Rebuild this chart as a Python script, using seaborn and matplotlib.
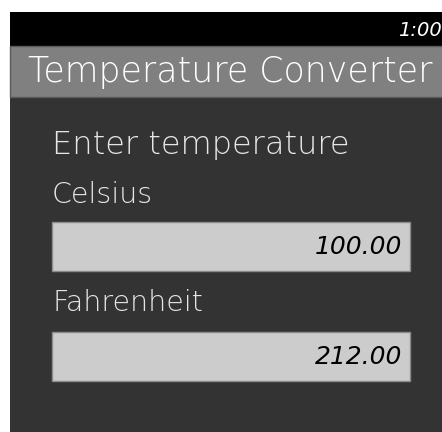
import matplotlib
matplotlib.use("Agg")
import matplotlib.pyplot as plt
import seaborn as sns
from matplotlib.patches import Rectangle

# screen texts and values
status_time = "1:00"
title = "Temperature Converter"
prompt = "Enter temperature"
field_labels = ["Celsius", "Fahrenheit"]
field_values = [100.00, 212.00]

sns.set_style("white")
plt.rcParams["font.family"] = ["DejaVu Sans"]

W, H = 442, 432
fig = plt.figure(figsize=(W / 100, H / 100), dpi=100)
fig.patch.set_facecolor("#333333")
ax = fig.add_axes([0, 0, 1, 1])
ax.set_xlim(0, W)
ax.set_ylim(H, 0)
ax.axis("off")

# white margin at the top and left, then the bars of the screen
ax.add_patch(Rectangle((-5, -5), 15, H + 10, color="white", lw=0))
ax.add_patch(Rectangle((-5, -5), W + 10, 17, color="white", lw=0))
ax.add_patch(Rectangle((10, 12), W, 34, color="black", lw=0))
ax.add_patch(Rectangle((10, 46), W, 51, facecolor="#808080",
                       edgecolor="#5a5a5a", lw=1))

ax.text(442, 30, status_time, color="white", fontsize=14, ha="right",
        va="center", style="italic", fontweight="light")
ax.text(28, 72, title, color="white", fontsize=25, ha="left", va="center",
        fontweight="light")
ax.text(52, 145, prompt, color="#e6e6e6", fontsize=23, ha="left",
        va="center", fontweight="light")

label_y = [195, 303]
box_top = [222, 332]
for lab, val, ly, by in zip(field_labels, field_values, label_y, box_top):
    ax.text(52, ly, lab, color="#e6e6e6", fontsize=20.5, ha="left",
            va="center", fontweight="light")
    ax.add_patch(Rectangle((52, by), 358, 49, facecolor="#cccccc",
                           edgecolor="#8a8a8a", lw=1))
    ax.text(402, by + 25, f"{val:.2f}", color="black", fontsize=18,
            ha="right", va="center", style="italic")

fig.savefig("out.png", dpi=100, facecolor=fig.get_facecolor())
